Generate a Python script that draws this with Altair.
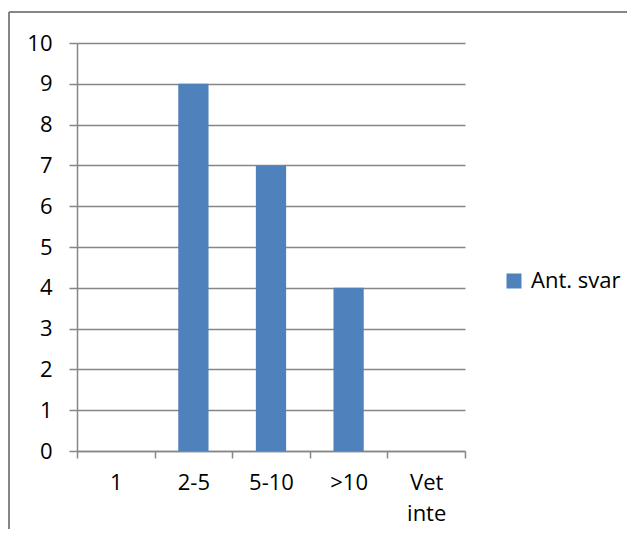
import altair as alt
import pandas as pd

categories = ["1", "2-5", "5-10", ">10", "Vet inte"]
values = [0, 9, 7, 4, 0]
series_name = "Ant. svar"
y_ticks = [0, 1, 2, 3, 4, 5, 6, 7, 8, 9, 10]

df = pd.DataFrame({"cat": categories, "val": values, "serie": [series_name] * len(categories)})

GRAY = "#868686"
FONT = "Open Sans"
FS = 22
W, H = 388, 408

bars = alt.Chart(df).mark_bar(color="#4F81BD", width=alt.RelativeBandSize(0.39)).encode(
    x=alt.X(
        "cat:N",
        sort=categories,
        title="",
        scale=alt.Scale(paddingInner=0, paddingOuter=0),
        axis=alt.Axis(
            tickBand="extent",
            tickSize=7,
            tickColor=GRAY,
            tickWidth=1.5,
            domainColor=GRAY,
            domainWidth=1.5,
            labelAngle=0,
            labelFont=FONT,
            labelFontSize=FS,
            labelColor="#000000",
            labelPadding=14,
            labelLineHeight=31,
            labelBaseline="top",
            labelExpr="datum.label == 'Vet inte' ? ['Vet', 'inte'] : datum.label",
            grid=False,
        ),
    ),
    y=alt.Y(
        "val:Q",
        title="",
        scale=alt.Scale(domain=[0, 10], nice=False),
        axis=alt.Axis(
            values=y_ticks,
            tickSize=8,
            tickColor=GRAY,
            tickWidth=1.5,
            domainColor=GRAY,
            domainWidth=1.5,
            grid=True,
            gridColor=GRAY,
            gridWidth=1.5,
            gridOpacity=1,
            labelFont=FONT,
            labelFontSize=FS,
            labelColor="#000000",
            labelPadding=17,
        ),
    ),
    color=alt.Color(
        "serie:N",
        scale=alt.Scale(range=["#4F81BD"]),
        legend=alt.Legend(
            title="",
            orient="none",
            legendX=426,
            legendY=227,
            symbolType="square",
            symbolSize=225,
            symbolStrokeWidth=0,
            symbolOpacity=1,
            labelFont=FONT,
            labelFontSize=FS,
            labelColor="#000000",
            labelOffset=6,
        ),
    ),
)

frame_left = alt.Chart(df).mark_rule(color=GRAY, strokeWidth=1.8).encode(
    x=alt.value(-68), y=alt.value(-31), y2=alt.value(486)
)
frame_top = alt.Chart(df).mark_rule(color=GRAY, strokeWidth=1.8).encode(
    x=alt.value(-68), x2=alt.value(550), y=alt.value(-31)
)

chart = (
    alt.layer(bars, frame_left, frame_top)
    .properties(
        width=W,
        height=H,
        autosize=alt.AutoSizeParams(type="pad"),
        padding={"left": 0, "top": 3, "right": 0, "bottom": 0},
        background="#ffffff",
    )
    .configure_view(stroke=None)
)

chart.save("out.html", embed_options={"renderer": "svg", "actions": False})
